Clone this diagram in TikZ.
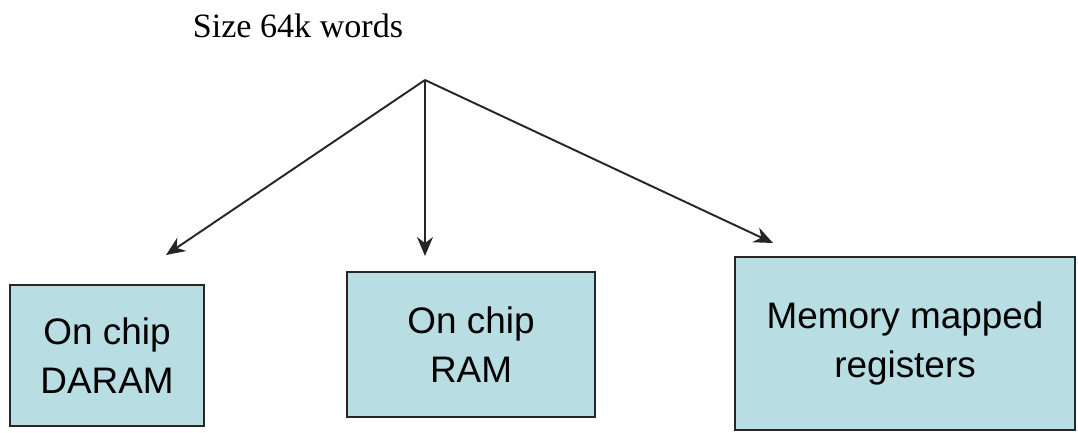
\documentclass[tikz,border=0pt]{standalone}
\usepackage{xcolor}
\usepackage{fontspec}
\setmainfont{Liberation Serif}
\setsansfont{Liberation Sans}
\usepackage{tikz}
\usetikzlibrary{arrows.meta,positioning}
\definecolor{memfill}{RGB}{184,222,228}
\tikzset{
  membox/.style={draw=black!85, fill=memfill, line width=1pt, align=center, inner sep=0pt, font=\sffamily\fontsize{21}{27.5}\selectfont},
  memarrow/.style={-{Stealth[length=3.8mm,width=3.2mm]}, line width=1.1pt, draw=black!85},
  titletext/.style={font=\fontsize{19.4}{23}\selectfont, inner sep=0pt, anchor=base}
}

\begin{document}
\begin{tikzpicture}
\useasboundingbox (0,0) rectangle (21.56,-8.66);
\node[titletext] (title) at (5.96,-0.76) {Size 64k words};
\coordinate (split) at (8.50,-1.60);
\node[membox, minimum width=3.88cm, minimum height=2.82cm] (daram) at (2.14,-7.11) {On chip\\DARAM};
\node[membox, minimum width=4.96cm, minimum height=2.90cm] (ram) at (9.42,-6.89) {On chip\\RAM};
\node[membox, minimum width=6.80cm, minimum height=3.46cm] (mmr) at (18.10,-6.87) {Memory mapped\\registers};
\coordinate (tipdaram) at (3.32,-5.10);
\coordinate (tipram) at (8.50,-5.12);
\coordinate (tipmmr) at (15.46,-4.86);
\draw[memarrow] (split) -- (tipdaram);
\draw[memarrow] (split) -- (tipram);
\draw[memarrow] (split) -- (tipmmr);
\end{tikzpicture}
\end{document}
